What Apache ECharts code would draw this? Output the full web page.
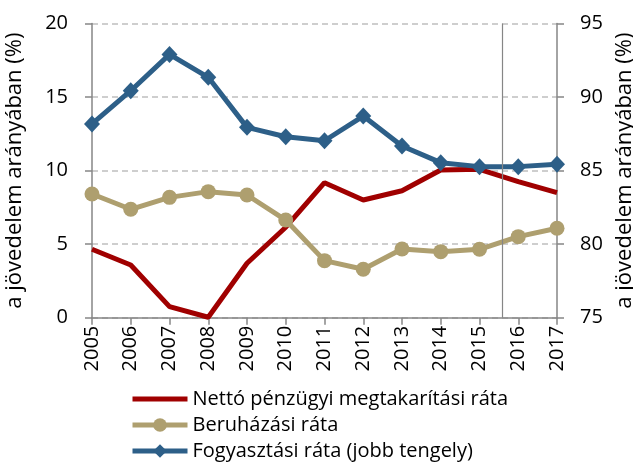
<!DOCTYPE html>
<html>
<head>
<meta charset="utf-8">
<script src="https://cdn.jsdelivr.net/npm/echarts@6/dist/echarts.min.js"></script>
<style>
	html,body{margin:0;padding:0;background:#fff}
	#chart{width:633px;height:462px}
</style>
</head>
<body>
<div id="chart"></div>
<script>
	// evek
	const years = [2005,2006,2007,2008,2009,2010,2011,2012,2013,2014,2015,2016,2017]
	const netto = [4.65,3.58,0.75,0.03,3.7,6.15,9.18,8.0,8.63,10.04,10.09,9.25,8.5]
	const beruhazas = [8.41,7.37,8.18,8.57,8.34,6.64,3.88,3.29,4.67,4.49,4.65,5.51,6.08]
	const fogyasztas = [88.17,90.43,92.9,91.34,87.94,87.3,87.03,88.71,86.67,85.54,85.27,85.27,85.43]
	const seriesNames = ['Nettó pénzügyi megtakarítási ráta','Beruházási ráta','Fogyasztási ráta (jobb tengely)']
	const axisTitle = 'a jövedelem arányában (%)'
	const forecastFrom = 2015.6

	const font = 'Open Sans'
	const pairs = arr => arr.map((v,i)=>[years[i],v])

	let chart = echarts.init(document.getElementById('chart'))
	chart.setOption({
		animation:false,
		textStyle:{ fontFamily:font, color:'#000' },
		grid:{ left:92, right:76, top:23.5, bottom:144.3, outerBoundsMode:'none', containLabel:false },
		legend:{
			orient:'vertical',
			left:130, top:388, padding:0,
			itemWidth:55, itemHeight:17, itemGap:4,
			lineStyle:{ width:5 },
			textStyle:{ fontFamily:font, fontSize:20, lineHeight:22, color:'#000' },
			data:[
				// sima vonal, jelolo nelkul
				{ name:seriesNames[0], icon:'path://M0,0 L55,0 L55,5 L0,5 Z' },
				seriesNames[1],
				seriesNames[2]
			]
		},
		xAxis:{
			type:'value',
			min:2005, max:2017, interval:1,
			axisLine:{ lineStyle:{ color:'#868686', width:1.5 } },
			axisTick:{ length:7, lineStyle:{ color:'#868686', width:1.5 } },
			axisLabel:{ rotate:90, fontSize:20, color:'#000', margin:8, formatter:v=>String(v) },
			splitLine:{ show:false }
		},
		yAxis:[
			{
				type:'value',
				min:0, max:20, interval:5,
				name:axisTitle, nameLocation:'middle', nameRotate:90, nameGap:66,
				nameTextStyle:{ fontSize:22, color:'#000' },
				axisLine:{ show:true, lineStyle:{ color:'#868686', width:1.5 } },
				axisTick:{ show:true, length:7, lineStyle:{ color:'#868686', width:1.5 } },
				axisLabel:{ fontSize:20, color:'#000', margin:24 },
				splitLine:{ lineStyle:{ color:'#BFBFBF', type:[6,4], width:1.5 } }
			},
			{
				type:'value',
				min:75, max:95, interval:5,
				position:'right',
				name:axisTitle, nameLocation:'middle', nameRotate:90, nameGap:54,
				nameTextStyle:{ fontSize:22, color:'#000' },
				axisLine:{ show:true, lineStyle:{ color:'#868686', width:1.5 } },
				axisTick:{ show:true, length:7, lineStyle:{ color:'#868686', width:1.5 } },
				axisLabel:{ fontSize:20, color:'#000', margin:23 },
				splitLine:{ show:false }
			}
		],
		series:[
			{
				name:seriesNames[0],
				type:'line',
				data:pairs(netto),
				symbol:'none',
				lineStyle:{ color:'#A00000', width:5 },
				itemStyle:{ color:'#A00000' },
				markLine:{
					silent:true, symbol:'none', label:{ show:false },
					lineStyle:{ color:'#868686', width:1.2, type:'solid' },
					data:[{ xAxis:forecastFrom }]
				}
			},
			{
				name:seriesNames[1],
				type:'line',
				data:pairs(beruhazas),
				symbol:'circle', symbolSize:15,
				lineStyle:{ color:'#AE9F6F', width:5 },
				itemStyle:{ color:'#AE9F6F' }
			},
			{
				name:seriesNames[2],
				type:'line',
				yAxisIndex:1,
				data:pairs(fogyasztas),
				symbol:'diamond', symbolSize:[16,17],
				lineStyle:{ color:'#2D5F88', width:5 },
				itemStyle:{ color:'#2D5F88' }
			}
		]
	})
</script>
</body>
</html>
